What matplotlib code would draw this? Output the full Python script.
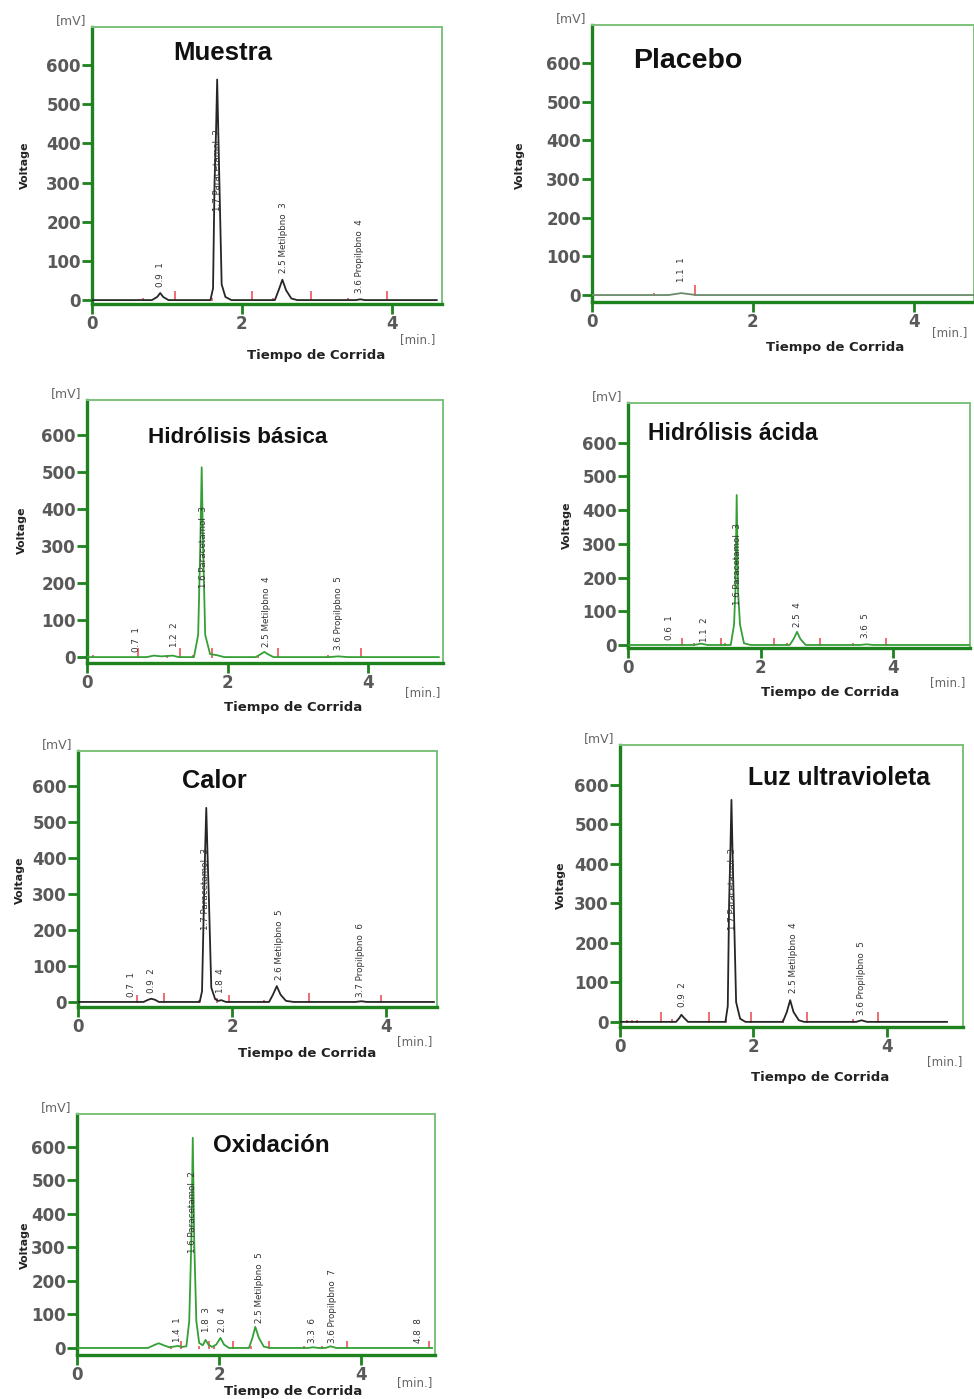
import matplotlib
matplotlib.use("Agg")
import matplotlib.pyplot as plt

W, H = 974, 1399

# ---- data (time in min, signal in mV) ----
muestra_t = [0.0, 0.80, 0.87, 0.91, 0.95, 1.02, 1.58, 1.615, 1.635, 1.655, 1.67, 1.685, 1.70,
             1.73, 1.78, 1.86, 2.44, 2.49, 2.54, 2.59, 2.66, 2.74, 3.52, 3.58, 3.64, 4.60]
muestra_v = [0, 0, 8, 18, 8, 0, 0, 30, 300, 430, 563, 430, 300, 40, 8, 0, 0, 25, 52, 25, 4, 0,
             0, 2, 0, 0]
muestra_marks_t = [0.68, 1.11, 1.60, 2.13, 2.41, 2.92, 3.41, 3.93]
muestra_marks_h = [6, 24, 6, 24, 6, 24, 6, 24]
muestra_ann_x = [0.91, 1.67, 2.55, 3.57]
muestra_ann_y = [34, 227, 70, 18]
muestra_ann_s = ['0.9  1', '1.7 Paracetamol  2', '2.5 Metilpbno  3', '3.6 Propilpbno  4']

placebo_t = [0.0, 0.95, 1.05, 1.11, 1.18, 1.30, 4.75]
placebo_v = [0, 0, 3, 5, 3, 0, 0]
placebo_marks_t = [0.77, 1.28]
placebo_marks_h = [5, 25]
placebo_ann_x = [1.11]
placebo_ann_y = [34]
placebo_ann_s = ['1.1  1']

basica_t = [0.0, 0.85, 0.95, 1.05, 1.15, 1.22, 1.30, 1.52, 1.58, 1.61, 1.63, 1.65, 1.68, 1.75,
            1.85, 1.95, 2.40, 2.47, 2.52, 2.57, 2.65, 3.45, 3.57, 3.70, 5.0]
basica_v = [0, 0, 4, 2, 3, 4, 0, 0, 60, 300, 513, 300, 60, 8, 5, 0, 0, 8, 14, 8, 0, 0, 2, 0, 0]
basica_marks_t = [0.09, 0.73, 1.13, 1.32, 1.50, 1.77, 2.43, 2.71, 3.42, 3.90]
basica_marks_h = [6, 24, 6, 24, 6, 24, 6, 24, 6, 24]
basica_ann_x = [0.71, 1.25, 1.65, 2.55, 3.57]
basica_ann_y = [14, 27, 186, 27, 19]
basica_ann_s = ['0.7  1', '1.2  2', '1.6 Paracetamol  3', '2.5 Metilpbno  4', '3.6 Propilpbno  5']

acida_t = [0.0, 1.0, 1.1, 1.2, 1.55, 1.60, 1.62, 1.64, 1.66, 1.69, 1.75, 1.85,
           2.44, 2.50, 2.55, 2.60, 2.68, 3.50, 3.60, 3.70, 5.15]
acida_v = [0, 0, 4, 0, 0, 60, 160, 445, 160, 60, 5, 0, 0, 18, 39, 18, 0, 0, 2, 0, 0]
acida_marks_t = [0.82, 1.00, 1.41, 1.47, 2.20, 2.40, 2.90, 3.40, 3.90]
acida_marks_h = [22, 5, 22, 5, 22, 5, 22, 5, 22]
acida_ann_x = [0.62, 1.15, 1.65, 2.56, 3.58]
acida_ann_y = [15, 10, 119, 53, 21]
acida_ann_s = ['0.6  1', '1.1  2', '1.6 Paracetamol  3', '2.5  4', '3.6  5']

calor_t = [0.0, 0.85, 0.91, 0.95, 1.00, 1.05, 1.58, 1.61, 1.635, 1.65, 1.665, 1.68, 1.70, 1.73,
           1.78, 1.82, 1.86, 1.92, 2.48, 2.53, 2.58, 2.63, 2.70, 2.80, 3.60, 3.68, 3.75, 4.62]
calor_v = [0, 0, 6, 9, 6, 0, 0, 30, 280, 420, 539, 420, 280, 40, 8, 3, 5, 0, 0, 20, 44, 20, 3,
           0, 0, 2, 0, 0]
calor_marks_t = [0.77, 1.12, 1.57, 1.80, 1.96, 2.42, 3.00, 3.93]
calor_marks_h = [18, 24, 5, 12, 18, 5, 24, 20]
calor_ann_x = [0.69, 0.96, 1.66, 1.85, 2.61, 3.67]
calor_ann_y = [14, 25, 200, 25, 61, 14]
calor_ann_s = ['0.7  1', '0.9  2', '1.7 Paracetamol  3', '1.8  4', '2.6 Metilpbno  5',
               '3.7 Propilpbno  6']

luz_t = [0.0, 0.84, 0.89, 0.92, 0.96, 1.02, 1.58, 1.615, 1.635, 1.655, 1.67, 1.685, 1.705,
         1.74, 1.80, 1.88, 2.44, 2.50, 2.55, 2.60, 2.68, 2.76, 3.54, 3.62, 3.70, 4.90]
luz_v = [0, 0, 10, 18, 10, 0, 0, 40, 300, 440, 562, 440, 300, 50, 8, 0, 0, 25, 55, 25, 4, 0, 0,
         4, 0, 0]
luz_marks_t = [0.10, 0.18, 0.26, 0.62, 0.78, 1.34, 1.59, 1.97, 2.44, 2.80, 3.49, 3.87]
luz_marks_h = [4, 4, 4, 24, 6, 24, 6, 24, 6, 24, 6, 24]
luz_ann_x = [0.94, 1.68, 2.60, 3.62]
luz_ann_y = [38, 233, 73, 18]
luz_ann_s = ['0.9  2', '1.7 Paracetamol  3', '2.5 Metilpbno  4', '3.6 Propilpbno  5']

oxid_t = [0.0, 1.00, 1.08, 1.15, 1.22, 1.30, 1.36, 1.42, 1.48, 1.54, 1.58, 1.61, 1.63, 1.65,
          1.68, 1.72, 1.77, 1.81, 1.85, 1.90, 1.96, 2.02, 2.07, 2.14, 2.42, 2.47, 2.51, 2.56,
          2.63, 2.72, 3.25, 3.32, 3.40, 3.50, 3.57, 3.65, 5.0]
oxid_v = [0, 0, 8, 14, 8, 2, 4, 6, 3, 5, 80, 320, 627, 320, 80, 15, 8, 24, 10, 3, 10, 30, 10,
          0, 0, 30, 63, 30, 4, 0, 0, 2, 0, 0, 5, 0, 0]
oxid_marks_t = [1.32, 1.46, 1.72, 1.86, 1.93, 2.19, 2.45, 2.70, 3.20, 3.45, 3.80, 4.95]
oxid_marks_h = [6, 22, 6, 22, 6, 22, 6, 22, 5, 5, 22, 22]
oxid_ann_x = [1.42, 1.63, 1.82, 2.05, 2.57, 3.31, 3.59, 4.81]
oxid_ann_y = [18, 283, 48, 48, 75, 15, 15, 15]
oxid_ann_s = ['1.4  1', '1.6 Paracetamol  2', '1.8  3', '2.0  4', '2.5 Metilpbno  5', '3.3  6',
              '3.6 Propilpbno  7', '4.8  8']

titles = ['Muestra', 'Placebo', 'Hidrólisis básica', 'Hidrólisis ácida', 'Calor',
          'Luz ultravioleta', 'Oxidación']

BLACK = '#262626'
GREEN = '#35a035'

# ---- layout (pixels) ----
panels = [
    dict(t=muestra_t, v=muestra_v, mt=muestra_marks_t, mh=muestra_marks_h,
         ax_=muestra_ann_x, ay=muestra_ann_y, s=muestra_ann_s, color=BLACK,
         box=(92, 27, 442, 304), xmax=4.67, ylim=(-10, 697),
         title=(173, 60, 18.5), volt=(25, 165), tiempo=(316, 355), mins=(418, 340)),
    dict(t=placebo_t, v=placebo_v, mt=placebo_marks_t, mh=placebo_marks_h,
         ax_=placebo_ann_x, ay=placebo_ann_y, s=placebo_ann_s, color='#6a8a6a',
         box=(592, 25, 974, 302), xmax=4.75, ylim=(-18, 698),
         title=(633, 68, 20.5), volt=(520, 165), tiempo=(835, 347), mins=(950, 333)),
    dict(t=basica_t, v=basica_v, mt=basica_marks_t, mh=basica_marks_h,
         ax_=basica_ann_x, ay=basica_ann_y, s=basica_ann_s, color=GREEN,
         box=(87, 400, 443, 663), xmax=5.06, ylim=(-16, 695),
         title=(148, 443, 16.2), volt=(22, 530), tiempo=(293, 708), mins=(423, 693)),
    dict(t=acida_t, v=acida_v, mt=acida_marks_t, mh=acida_marks_h,
         ax_=acida_ann_x, ay=acida_ann_y, s=acida_ann_s, color=GREEN,
         box=(628, 403, 970, 648), xmax=5.16, ylim=(-9, 718),
         title=(648, 440, 16.6), volt=(567, 525), tiempo=(830, 693), mins=(948, 683)),
    dict(t=calor_t, v=calor_v, mt=calor_marks_t, mh=calor_marks_h,
         ax_=calor_ann_x, ay=calor_ann_y, s=calor_ann_s, color=BLACK,
         box=(78, 751, 437, 1007), xmax=4.66, ylim=(-14, 697),
         title=(182, 788, 18.3), volt=(20, 880), tiempo=(307, 1053), mins=(415, 1042)),
    dict(t=luz_t, v=luz_v, mt=luz_marks_t, mh=luz_marks_h,
         ax_=luz_ann_x, ay=luz_ann_y, s=luz_ann_s, color=BLACK,
         box=(620, 745, 963, 1027), xmax=5.14, ylim=(-13, 701),
         title=(748, 785, 17.9), volt=(561, 885), tiempo=(820, 1077), mins=(945, 1062)),
    dict(t=oxid_t, v=oxid_v, mt=oxid_marks_t, mh=oxid_marks_h,
         ax_=oxid_ann_x, ay=oxid_ann_y, s=oxid_ann_s, color=GREEN,
         box=(77, 1114, 435, 1355), xmax=5.04, ylim=(-21, 698),
         title=(213, 1152, 17.4), volt=(25, 1245), tiempo=(293, 1391), mins=(415, 1383)),
]

fig = plt.figure(figsize=(W / 100, H / 100), dpi=100)


def ftext(x, y, s, **kw):
    fig.text(x / W, 1 - y / H, s, **kw)


for p, name in zip(panels, titles):
    l, t, r, b = p['box']
    ax = fig.add_axes([l / W, 1 - b / H, (r - l) / W, (b - t) / H])
    ax.plot(p['t'], p['v'], color=p['color'], lw=1.3, zorder=3)
    ax.vlines(p['mt'], -3, p['mh'], colors='#e8464a', lw=1.1, zorder=2)
    for x, y, s in zip(p['ax_'], p['ay'], p['s']):
        ax.text(x, y, s, rotation=90, ha='center', va='bottom', fontsize=6.3,
                color='#333333', zorder=4)
    ax.set_xlim(0, p['xmax'])
    ax.set_ylim(*p['ylim'])
    ax.set_xticks([0, 2, 4])
    ax.set_yticks(range(0, 601, 100))
    for side in ['left', 'bottom']:
        ax.spines[side].set_color('#1e821e')
        ax.spines[side].set_linewidth(2.4)
    for side in ['top', 'right']:
        ax.spines[side].set_color('#7cc27c')
        ax.spines[side].set_linewidth(1.4)
    ax.tick_params(axis='both', colors='#1e821e', labelcolor='#595959', labelsize=12,
                   width=2, length=7, pad=1)
    for lbl in ax.get_xticklabels() + ax.get_yticklabels():
        lbl.set_fontweight('bold')

    ftext(l - 6, t - 6, '[mV]', ha='right', va='center', fontsize=9, color='#666666')
    tx, ty, ts = p['title']
    ftext(tx, ty, name, ha='left', va='baseline', fontsize=ts, fontweight='bold',
          family='Liberation Sans', color='#111111')
    ftext(*p['volt'], 'Voltage', rotation=90, ha='center', va='center', fontsize=8,
          fontweight='bold', color='#222222')
    ftext(*p['tiempo'], 'Tiempo de Corrida', ha='center', va='center', fontsize=9.5,
          fontweight='bold', color='#222222')
    ftext(*p['mins'], '[min.]', ha='center', va='center', fontsize=8.5, color='#666666')

fig.savefig('out.png', dpi=100)
